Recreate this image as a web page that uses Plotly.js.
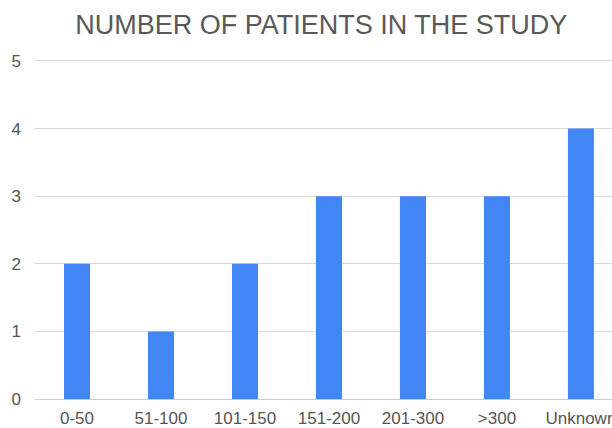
<!DOCTYPE html>
<html>
<head>
<meta charset="utf-8">
<script src="https://cdn.plot.ly/plotly-3.0.1.min.js"></script>
<style>
  html, body { margin: 0; padding: 0; overflow: hidden; background: #fff; }
  #chart { width: 612px; height: 428px; }
</style>
</head>
<body>
<div id="chart"></div>
<script>
// Patient counts grouped by size band
const categories = ['0-50', '51-100', '101-150', '151-200', '201-300', '>300', 'Unknown'];
const patients = [2, 1, 2, 3, 3, 3, 4];
const yTicks = [0, 1, 2, 3, 4, 5];

const trace = {
  type: 'bar',
  x: categories,
  y: patients,
  marker: { color: '#4285F4' },
  hoverinfo: 'x+y'
};

const layout = {
  width: 612,
  height: 428,
  margin: { l: 35, r: 0, t: 58, b: 29 },
  paper_bgcolor: '#ffffff',
  plot_bgcolor: '#ffffff',
  bargap: 0.69,
  showlegend: false,
  font: { family: 'Liberation Sans, Arial, sans-serif', color: '#555555' },
  title: {
    text: 'NUMBER OF PATIENTS IN THE STUDY',
    font: { size: 27, color: '#595959', family: 'Liberation Sans, Arial, sans-serif' },
    xref: 'container', x: 0.525, xanchor: 'center',
    yref: 'container', y: 0.943, yanchor: 'middle'
  },
  xaxis: {
    type: 'category',
    range: [-0.5, 6.37],
    showgrid: false,
    showline: false,
    zeroline: false,
    ticks: '',
    tickfont: { size: 17, color: '#555555' },
    ticklabelstandoff: 7,
    fixedrange: true
  },
  yaxis: {
    range: [0, 5.044],
    tickvals: yTicks,
    ticktext: yTicks.map(String),
    showgrid: true,
    gridcolor: '#d9d9d9',
    gridwidth: 1,
    zeroline: true,
    zerolinecolor: '#cccccc',
    zerolinewidth: 1,
    showline: false,
    ticks: '',
    tickfont: { size: 17, color: '#555555' },
    ticklabelstandoff: 13,
    fixedrange: true
  }
};

Plotly.newPlot('chart', [trace], layout, { displayModeBar: false, staticPlot: true });
</script>
</body>
</html>
